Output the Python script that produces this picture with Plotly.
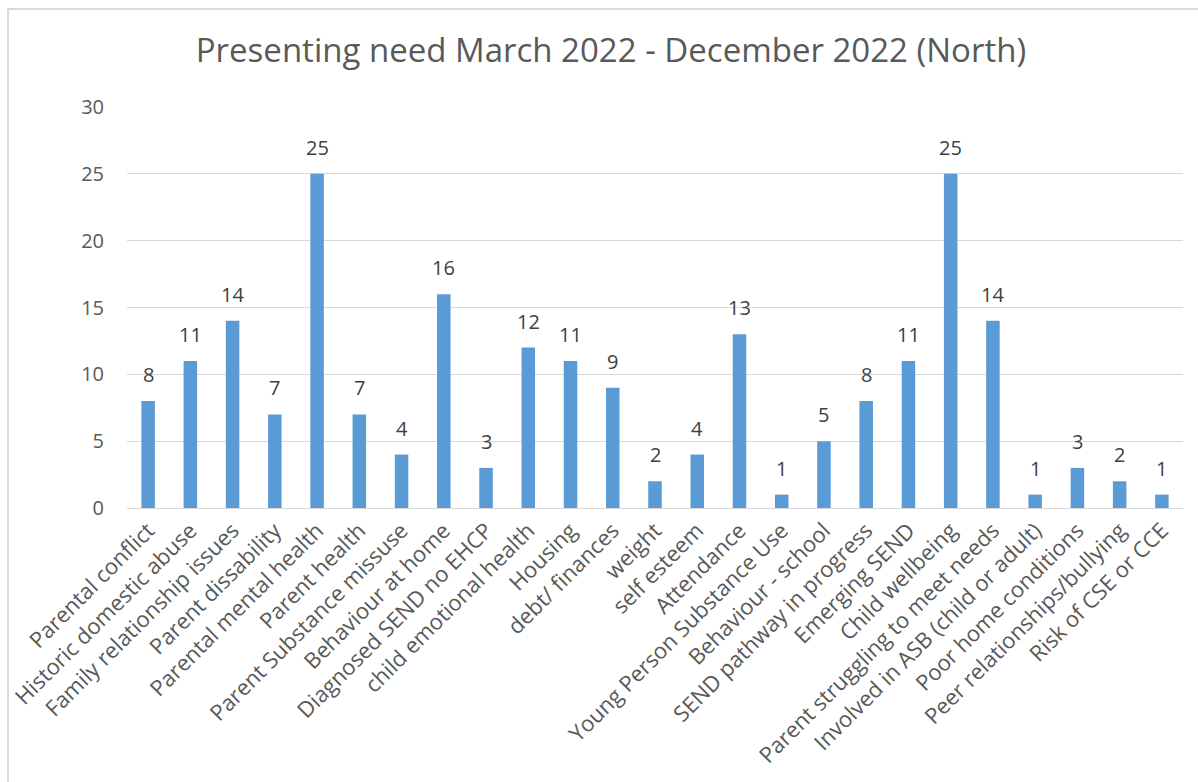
import plotly.graph_objects as go

# Presenting needs recorded March 2022 - December 2022, North locality
categories = [
    "Parental conflict",
    "Historic domestic abuse",
    "Family relationship issues",
    "Parent dissability",
    "Parental mental health",
    "Parent health",
    "Parent Substance missuse",
    "Behaviour at home",
    "Diagnosed SEND no EHCP",
    "child emotional health",
    "Housing",
    "debt/ finances",
    "weight",
    "self esteem",
    "Attendance",
    "Young Person Substance Use",
    "Behaviour - school",
    "SEND pathway in progress",
    "Emerging SEND",
    "Child wellbeing",
    "Parent struggling to meet needs",
    "Involved in ASB (child or adult)",
    "Poor home conditions",
    "Peer relationships/bullying",
    "Risk of CSE or CCE",
]
counts = [8, 11, 14, 7, 25, 7, 4, 16, 3, 12, 11, 9, 2, 4, 13, 1, 5, 8, 11, 25, 14, 1, 3, 2, 1]

y_ticks = [0, 5, 10, 15, 20, 25, 30]

FONT = "'Open Sans', Lato, sans-serif"
GREY_TEXT = "#595959"
GRID = "#d9d9d9"
BAR = "#5b9bd5"

fig = go.Figure()
fig.add_trace(
    go.Bar(
        x=categories,
        y=counts,
        width=0.32,
        marker=dict(color=BAR, line=dict(width=0)),
        hoverinfo="x+y",
    )
)

# value labels above each bar
for cat, val in zip(categories, counts):
    fig.add_annotation(
        x=cat,
        y=val,
        xref="x",
        yref="y",
        text=str(val),
        showarrow=False,
        yanchor="bottom",
        yshift=11,
        font=dict(family=FONT, size=20, color="#404040"),
    )

# outer chart frame
fig.add_shape(
    type="rect",
    xref="paper",
    yref="paper",
    x0=-0.1127,
    x1=1.06,
    y0=-0.72,
    y1=1.2444,
    line=dict(color=GRID, width=2),
    fillcolor="rgba(0,0,0,0)",
    layer="below",
)

fig.update_layout(
    width=1198,
    height=782,
    margin=dict(l=127, r=15, t=107, b=274, autoexpand=False),
    paper_bgcolor="white",
    plot_bgcolor="white",
    showlegend=False,
    title=dict(
        text="Presenting need March 2022 - December 2022 (North)",
        x=0.51,
        xanchor="center",
        y=1 - 50 / 782,
        yanchor="middle",
        font=dict(family=FONT, size=33, color=GREY_TEXT),
    ),
    xaxis=dict(
        tickangle=-45,
        tickfont=dict(family=FONT, size=22, color=GREY_TEXT),
        showgrid=False,
        showline=True,
        linecolor=GRID,
        linewidth=1,
        ticks="",
        automargin=False,
        fixedrange=True,
    ),
    yaxis=dict(
        range=[0, 30],
        tickvals=y_ticks,
        tickfont=dict(family=FONT, size=20, color=GREY_TEXT),
        showgrid=True,
        gridcolor=GRID,
        gridwidth=1,
        zeroline=False,
        showline=False,
        ticks="",
        ticklabelstandoff=22,
        automargin=False,
        fixedrange=True,
    ),
)

fig.write_html("out.html")
